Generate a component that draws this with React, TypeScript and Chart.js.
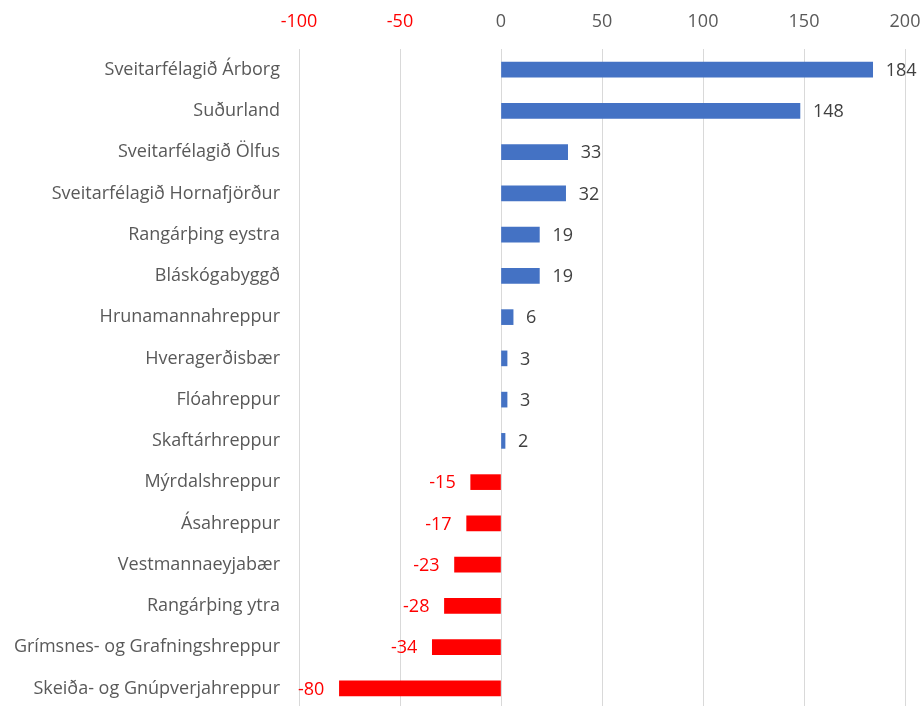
import React, { useEffect, useRef } from "react";
import { Chart, registerables } from "chart.js";

Chart.register(...registerables);

const categories = [
  "Sveitarfélagið Árborg",
  "Suðurland",
  "Sveitarfélagið Ölfus",
  "Sveitarfélagið Hornafjörður",
  "Rangárþing eystra",
  "Bláskógabyggð",
  "Hrunamannahreppur",
  "Hveragerðisbær",
  "Flóahreppur",
  "Skaftárhreppur",
  "Mýrdalshreppur",
  "Ásahreppur",
  "Vestmannaeyjabær",
  "Rangárþing ytra",
  "Grímsnes- og Grafningshreppur",
  "Skeiða- og Gnúpverjahreppur",
];

const values = [184, 148, 33, 32, 19, 19, 6, 3, 3, 2, -15, -17, -23, -28, -34, -80];

const xMin = -100;
const xMax = 200;
const xStep = 50;

const BLUE = "#4472C4";
const RED = "#FF0000";
const FONT = "'Open Sans', sans-serif";

const labelPlugin = {
  id: "valueLabels",
  afterDatasetsDraw(chart: any) {
    const ctx = chart.ctx;
    const meta = chart.getDatasetMeta(0);
    ctx.save();
    ctx.font = `18px ${FONT}`;
    ctx.textBaseline = "middle";
    meta.data.forEach((bar: any, i: number) => {
      const v = values[i];
      if (v < 0) {
        ctx.fillStyle = RED;
        ctx.textAlign = "right";
        ctx.fillText(String(v), bar.x - 15, bar.y + 1);
      } else {
        ctx.fillStyle = "#404040";
        ctx.textAlign = "left";
        ctx.fillText(String(v), bar.x + 13, bar.y + 1);
      }
    });
    ctx.restore();
  },
};

export default function App() {
  const ref = useRef<HTMLCanvasElement | null>(null);
  useEffect(() => {
    if (!ref.current) return;
    const chart = new Chart(ref.current, {
      type: "bar",
      data: {
        labels: categories,
        datasets: [
          {
            data: values,
            backgroundColor: values.map((v) => (v < 0 ? RED : BLUE)),
            barThickness: 15,
          },
        ],
      },
      options: {
        indexAxis: "y",
        responsive: false,
        animation: false,
        layout: { padding: 0 },
        plugins: { legend: { display: false }, tooltip: { enabled: false } },
        scales: {
          x: {
            position: "top",
            min: xMin,
            max: xMax,
            border: { display: false },
            grid: { color: "#D9D9D9", lineWidth: 1, drawTicks: false },
            ticks: {
              stepSize: xStep,
              padding: 16,
              font: { family: FONT, size: 18 },
              color: (c: any) => (c.tick && c.tick.value < 0 ? RED : "#595959"),
            },
            afterFit: (s: any) => {
              s.height = 49;
              s.paddingLeft = 0;
              s.paddingRight = 16;
            },
          },
          y: {
            border: { display: false },
            grid: { display: false, drawTicks: false },
            ticks: {
              padding: 19,
              font: { family: FONT, size: 18 },
              color: "#595959",
            },
            afterFit: (s: any) => {
              s.width = 299;
              s.paddingTop = 0;
              s.paddingBottom = 0;
            },
          },
        },
      },
      plugins: [labelPlugin],
    });
    return () => chart.destroy();
  }, []);
  return (
    <div style={{ position: "fixed", left: 0, top: 0, width: 921, height: 706, overflow: "hidden", background: "#fff" }}>
      <canvas ref={ref} width={921} height={709} style={{ display: "block" }} />
    </div>
  );
}
